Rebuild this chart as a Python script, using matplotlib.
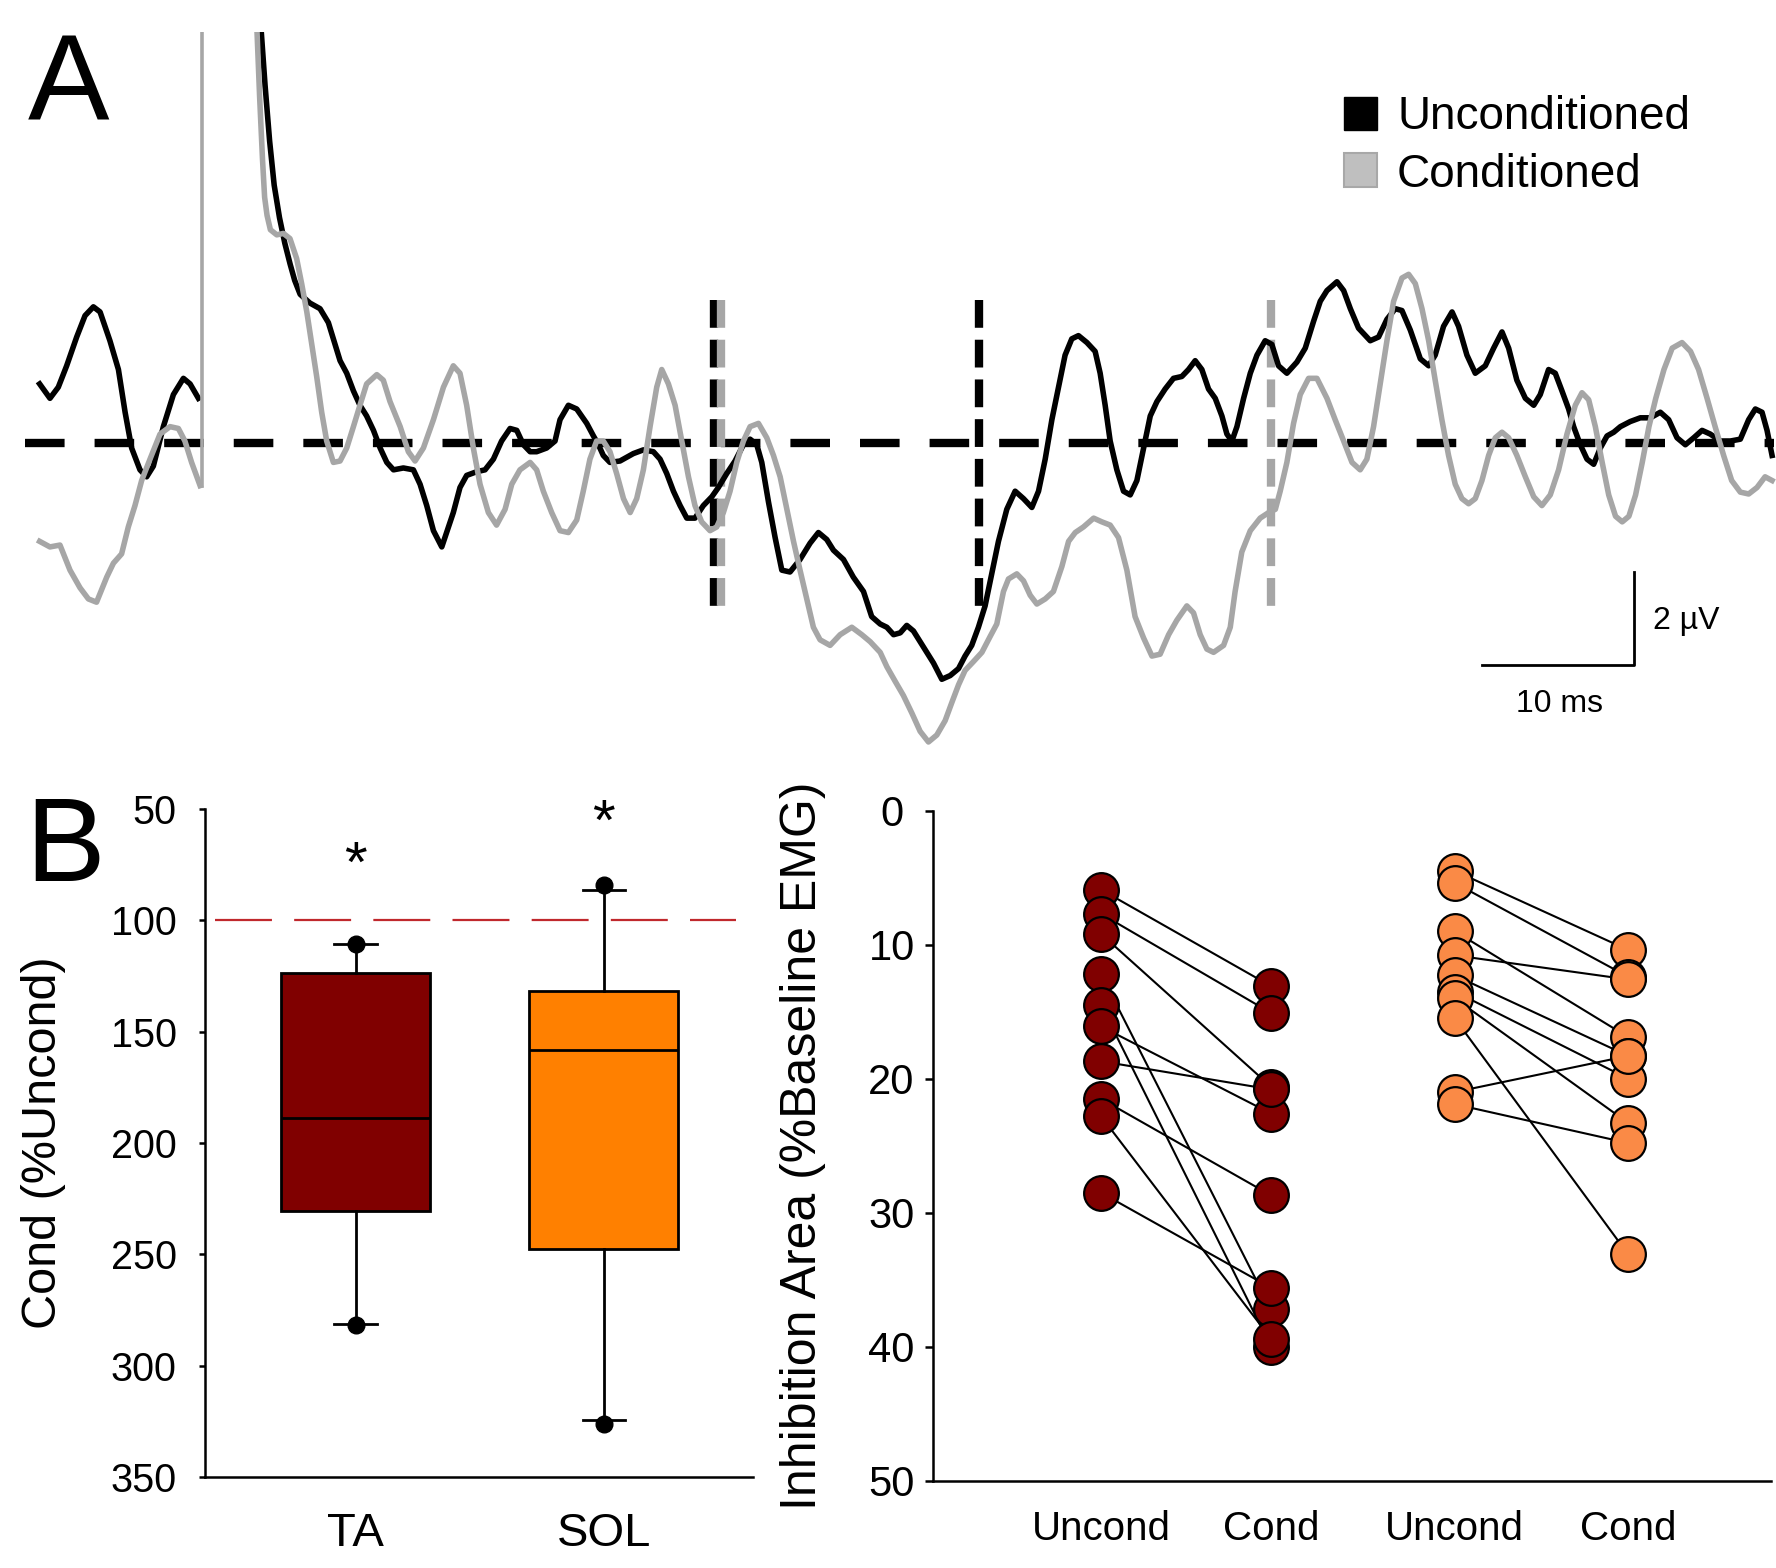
import numpy as np
import matplotlib
matplotlib.use("Agg")
import matplotlib.pyplot as plt
from matplotlib.patches import Rectangle

plt.rcParams['font.family'] = ['Liberation Sans', 'DejaVu Sans']
plt.rcParams['lines.scale_dashes'] = False

# ---------------- Panel A: averaged EMG traces (time ms, amplitude uV) ----------------
unc_pre = np.array([
    (0.0, 1.27), (0.68, 0.96), (1.23, 1.20), (1.78, 1.66), (2.44, 2.28), (2.99, 2.74),
    (3.54, 2.93), (3.98, 2.82), (4.63, 2.20), (5.19, 1.58), (5.63, 0.66), (6.06, -0.11),
    (6.61, -0.58), (7.05, -0.73), (7.49, -0.50), (8.15, 0.35), (8.81, 1.04), (9.47, 1.39),
    (9.91, 1.27), (10.46, 0.96)])

unc_post = np.array([
    (14.45, 9.54), (14.60, 8.85), (14.85, 7.70), (15.15, 6.50), (15.45, 5.55), (15.80, 4.85),
    (16.15, 4.30), (16.50, 3.85), (16.80, 3.50),
    (17.16, 3.20), (17.81, 3.01), (18.47, 2.89), (19.02, 2.59), (19.46, 2.12), (19.79, 1.77),
    (20.23, 1.50), (20.67, 1.12), (21.10, 0.81), (21.54, 0.58), (21.99, 0.27), (22.43, -0.11),
    (22.87, -0.42), (23.31, -0.58), (23.96, -0.54), (24.62, -0.58), (25.06, -0.89), (25.50, -1.35),
    (25.94, -1.89), (26.49, -2.24),
    (27.25, -1.50), (27.69, -0.96), (28.13, -0.70), (28.79, -0.62), (29.34, -0.58), (29.89, -0.35),
    (30.43, 0.04), (30.99, 0.31), (31.43, 0.27), (31.87, -0.04), (32.31, -0.19), (32.74, -0.19),
    (33.40, -0.11), (33.95, 0.04), (34.28, 0.50), (34.83, 0.81), (35.38, 0.73), (36.04, 0.42),
    (36.48, 0.15), (36.81, -0.04), (37.13, -0.27), (37.57, -0.42), (38.23, -0.39), (39.11, -0.23),
    (39.77, -0.15), (40.43, -0.19), (40.87, -0.35), (41.31, -0.66), (41.75, -1.04), (42.19, -1.35),
    (42.63, -1.62), (43.17, -1.62), (43.72, -1.35), (44.28, -1.16), (44.71, -0.96), (45.26, -0.66),
    (45.81, -0.39), (46.36, -0.04), (46.80, 0.08), (47.24, -0.04), (47.57, -0.42), (48.01, -1.27),
    (48.45, -2.04), (48.89, -2.74), (49.43, -2.78), (50.09, -2.51), (50.75, -2.16), (51.30, -1.93),
    (51.85, -2.08), (52.29, -2.31), (52.95, -2.51), (53.60, -2.89), (54.27, -3.20), (54.81, -3.74),
    (55.37, -3.90), (55.81, -3.97), (56.25, -4.13), (56.69, -4.09), (57.12, -3.93), (57.56, -4.05),
    (58.00, -4.28), (58.44, -4.51), (58.88, -4.74), (59.43, -5.09), (59.98, -5.01), (60.53, -4.86),
    (60.96, -4.59), (61.40, -4.36), (61.84, -3.97), (62.28, -3.51), (62.72, -2.82), (63.16, -2.12),
    (63.71, -1.43), (64.26, -1.04), (64.81, -1.20), (65.36, -1.39), (65.80, -1.04), (66.24, -0.35),
    (66.68, 0.50), (67.12, 1.20), (67.55, 1.89), (67.99, 2.24), (68.43, 2.31), (68.99, 2.16),
    (69.53, 1.97), (69.86, 1.50), (70.19, 0.81), (70.52, 0.04), (70.96, -0.58), (71.40, -1.04),
    (71.84, -1.12), (72.28, -0.81), (72.72, -0.11), (73.16, 0.58), (73.60, 0.89), (74.14, 1.16),
    (74.69, 1.39), (75.24, 1.43), (75.68, 1.58), (76.12, 1.77), (76.56, 1.58), (77.00, 1.16),
    (77.44, 0.96), (77.88, 0.58), (78.21, 0.19), (78.54, 0.04), (78.87, 0.35), (79.31, 0.96),
    (79.75, 1.50), (80.19, 1.89), (80.73, 2.20), (81.17, 2.12), (81.61, 1.66), (82.16, 1.50),
    (82.82, 1.74), (83.37, 2.04), (83.92, 2.62),
    (84.36, 3.05), (84.80, 3.28), (85.46, 3.47), (85.90, 3.28), (86.34, 2.89), (86.88, 2.47),
    (87.65, 2.20), (88.20, 2.28), (88.75, 2.66), (89.30, 2.89), (89.74, 2.85), (90.29, 2.43),
    (90.95, 1.81), (91.50, 1.66), (91.93, 1.89), (92.48, 2.51), (93.04, 2.82), (93.47, 2.51),
    (94.02, 1.89), (94.57, 1.50), (95.23, 1.66), (95.78, 2.04), (96.33, 2.39), (96.77, 2.04),
    (97.31, 1.35), (97.87, 0.96), (98.42, 0.81), (98.85, 1.04), (99.40, 1.58), (99.84, 1.50),
    (100.28, 1.12), (100.72, 0.73), (101.05, 0.35), (101.49, -0.04), (101.93, -0.35), (102.37, -0.46),
    (102.81, -0.11), (103.25, 0.15), (103.69, 0.23), (104.13, 0.35), (104.78, 0.46), (105.44, 0.54),
    (106.10, 0.54), (106.76, 0.66), (107.31, 0.50), (107.86, 0.11), (108.41, -0.04), (108.96, 0.11),
    (109.51, 0.27), (110.05, 0.19), (110.72, 0.04), (111.37, 0.04), (112.03, 0.08), (112.58, 0.50),
    (113.02, 0.73), (113.46, 0.66), (113.79, 0.27), (114.12, -0.27)])

cond_pre = np.array([
    (0.0, -2.12), (0.68, -2.24), (1.34, -2.20), (2.00, -2.74), (2.66, -3.12), (3.21, -3.36),
    (3.75, -3.43), (4.42, -2.89), (4.86, -2.59), (5.40, -2.39), (5.84, -1.81), (6.28, -1.35),
    (6.72, -0.81), (7.27, -0.35), (7.93, 0.19), (8.59, 0.35), (9.14, 0.31), (9.57, 0.04),
    (10.01, -0.42), (10.57, -0.92)])

cond_post = np.array([
    (14.25, 9.54), (14.32, 8.85), (14.49, 7.46), (14.68, 6.11), (14.82, 5.29), (14.98, 4.90),
    (15.20, 4.59), (15.62, 4.48), (16.06, 4.51), (16.49, 4.40), (16.93, 3.97), (17.26, 3.43),
    (17.60, 2.82), (17.93, 2.12), (18.25, 1.43), (18.58, 0.66), (18.91, 0.04), (19.35, -0.42),
    (19.79, -0.39), (20.23, -0.11), (20.67, 0.35), (21.10, 0.81), (21.54, 1.27), (22.21, 1.47),
    (22.64, 1.35), (23.08, 0.89), (23.75, 0.35), (24.29, -0.19), (24.73, -0.39), (25.28, -0.11),
    (25.94, 0.50), (26.60, 1.20),
    (27.25, 1.66), (27.69, 1.50), (28.13, 0.81), (28.57, -0.11), (29.01, -0.89), (29.56, -1.50),
    (30.10, -1.77), (30.66, -1.43), (31.10, -0.89), (31.64, -0.58), (32.31, -0.42), (32.74, -0.58),
    (33.18, -1.04), (33.73, -1.50), (34.28, -1.89), (34.83, -1.93), (35.38, -1.66), (35.81, -1.04),
    (36.25, -0.35), (36.69, 0.04), (37.13, 0.04), (37.57, -0.19), (38.01, -0.66), (38.46, -1.20),
    (38.90, -1.50), (39.33, -1.20), (39.77, -0.58), (40.21, 0.35), (40.65, 1.20), (40.98, 1.58),
    (41.42, 1.27), (41.86, 0.81), (42.30, 0.04), (42.74, -0.73), (43.17, -1.35), (43.61, -1.70),
    (44.16, -1.89), (44.60, -1.81), (45.04, -1.50), (45.48, -1.04), (45.92, -0.42), (46.36, 0.04),
    (46.80, 0.35), (47.35, 0.42), (47.90, 0.11), (48.34, -0.27), (48.78, -0.73), (49.22, -1.43),
    (49.66, -2.12), (50.09, -2.74), (50.53, -3.36), (50.97, -3.97), (51.41, -4.24), (52.07, -4.36),
    (52.73, -4.13), (53.50, -3.97), (54.16, -4.13), (54.71, -4.28),
    (55.37, -4.51), (55.81, -4.82), (56.35, -5.13), (56.90, -5.44), (57.46, -5.82), (58.00, -6.21),
    (58.55, -6.44), (59.10, -6.29), (59.65, -5.98), (60.09, -5.59), (60.53, -5.21), (60.96, -4.90),
    (61.51, -4.71), (62.07, -4.51), (62.61, -4.17), (63.05, -3.90), (63.49, -3.20), (63.82, -2.93),
    (64.37, -2.82), (64.81, -2.97), (65.25, -3.28), (65.69, -3.47), (66.24, -3.36), (66.78, -3.20),
    (67.34, -2.66), (67.78, -2.12), (68.22, -1.93), (68.76, -1.81), (69.43, -1.62), (69.97, -1.70),
    (70.52, -1.77), (71.07, -2.04), (71.62, -2.74), (72.16, -3.74), (72.72, -4.20), (73.27, -4.59),
    (73.81, -4.55), (74.37, -4.13), (74.91, -3.82), (75.57, -3.51), (76.01, -3.66), (76.45, -4.13),
    (76.89, -4.44), (77.33, -4.51), (77.99, -4.36), (78.43, -3.97), (78.75, -3.20), (79.19, -2.35),
    (79.75, -1.89), (80.40, -1.62), (80.96, -1.50), (81.40, -1.43), (81.72, -1.04), (82.16, -0.42),
    (82.60, 0.42), (83.04, 1.04), (83.59, 1.39), (84.14, 1.39),
    (84.80, 0.96), (85.34, 0.50), (85.90, 0.04), (86.45, -0.42), (86.99, -0.58), (87.43, -0.35),
    (87.87, 0.35), (88.31, 1.27), (88.75, 2.20), (89.19, 3.05), (89.74, 3.55), (90.18, 3.63),
    (90.62, 3.43), (91.06, 2.89), (91.50, 2.20), (91.93, 1.35), (92.37, 0.50), (92.81, -0.27),
    (93.25, -0.89), (93.69, -1.20), (94.13, -1.31), (94.57, -1.20), (95.01, -0.81), (95.45, -0.27),
    (95.89, 0.11), (96.33, 0.23), (96.77, 0.11), (97.31, -0.27), (97.87, -0.73), (98.42, -1.16),
    (98.96, -1.35), (99.51, -1.12), (100.06, -0.58), (100.61, 0.19), (101.16, 0.81), (101.60, 1.08),
    (102.04, 0.93), (102.48, 0.35), (102.93, -0.42), (103.36, -1.12), (103.81, -1.58), (104.25, -1.70),
    (104.69, -1.58), (105.13, -1.12), (105.57, -0.42), (106.01, 0.35), (106.46, 0.96), (107.00, 1.58),
    (107.54, 2.04), (108.19, 2.16), (108.75, 1.97), (109.28, 1.58), (109.84, 0.96), (110.37, 0.35),
    (110.93, -0.27), (111.46, -0.81), (112.03, -1.06), (112.58, -1.10), (113.13, -0.96), (113.66, -0.73),
    (114.12, -0.81)])

stim_t = 10.67                     # stimulus artifact
baseline_span = [-0.97, 114.25]    # dashed zero line
unc_marks = [44.45, 61.9]          # window of inhibition, unconditioned
cond_marks = [44.9, 81.1]          # window of inhibition, conditioned
mark_span = [3.07, -3.56]

# ---------------- Panel B data ----------------
muscles = ['TA', 'SOL']
box_colors = ['#800000', '#ff8000']
q1 = [123.8, 131.9]
med = [188.8, 158.5]
q3 = [230.4, 247.8]
whis_lo = [110.6, 86.3]
whis_hi = [281.3, 324.6]
fliers = [[110.6, 281.8], [84.0, 326.2]]
star_y = [76.0, 57.0]

ta_uncond = [5.9, 7.7, 9.2, 12.2, 14.5, 16.1, 18.7, 21.5, 22.8, 28.5]
ta_cond = [13.1, 15.1, 20.6, 37.2, 40.0, 22.6, 20.8, 28.7, 39.4, 35.6]
sol_uncond = [4.5, 5.4, 9.0, 10.8, 12.3, 13.5, 14.0, 15.5, 21.0, 21.9]
sol_cond = [10.4, 12.4, 16.9, 12.6, 18.3, 20.0, 23.3, 33.1, 18.3, 24.8]
cond_labels = ['Uncond', 'Cond', 'Uncond', 'Cond']
cond_pos = [1.0, 2.0, 3.08, 4.1]

W, H = 1776, 1568
fig = plt.figure(figsize=(W / 100, H / 100), dpi=100)


def px_box(x0, y0, x1, y1):
    # pixel rectangle (origin top-left) -> figure fraction
    return [x0 / W, 1 - y1 / H, (x1 - x0) / W, (y1 - y0) / H]


# ---------------- Panel A ----------------
axA = fig.add_axes(px_box(0, 31.7, W, 760))
axA.set_xlim(-2.611, 114.38)
axA.set_ylim(-6.828, 8.854)
axA.axis('off')

axA.plot(baseline_span, [0, 0], color='black', lw=6, ls=(0, (28.5, 21.6)),
         dash_capstyle='butt', zorder=1)
for t in unc_marks:
    axA.plot([t, t], mark_span, color='black', lw=6, ls=(0, (20, 8.6)),
             dash_capstyle='butt', zorder=1.5)
for t in cond_marks:
    axA.plot([t, t], mark_span, color='#a6a6a6', lw=6, ls=(0, (20, 8.6)),
             dash_capstyle='butt', zorder=1.6)

axA.plot(unc_pre[:, 0], unc_pre[:, 1], color='black', lw=4, zorder=2)
axA.plot(unc_post[:, 0], unc_post[:, 1], color='black', lw=4, zorder=2)
axA.plot(cond_pre[:, 0], cond_pre[:, 1], color='#a6a6a6', lw=4, zorder=3)
axA.plot(cond_post[:, 0], cond_post[:, 1], color='#a6a6a6', lw=4, zorder=3)
axA.plot([stim_t, stim_t], [cond_pre[-1, 1], 8.854], color='#a6a6a6', lw=2.6, zorder=3)

# scale bar
axA.plot([95, 105, 105], [-4.78, -4.78, -2.78], color='black', lw=2)
axA.text(106.3, -3.83, '2 µV', fontsize=23, ha='left', va='center')
axA.text(100.1, -5.63, '10 ms', fontsize=23, ha='center', va='center')

# legend
fig.add_artist(Rectangle((1344 / W, 1 - 130 / H), 33 / W, 33 / H, transform=fig.transFigure,
                         facecolor='black', edgecolor='black', lw=1))
fig.add_artist(Rectangle((1344 / W, 1 - 187 / H), 33 / W, 34 / H, transform=fig.transFigure,
                         facecolor='#bfbfbf', edgecolor='#a8a8a8', lw=1.5))
fig.text(1397 / W, 1 - 129 / H, 'Unconditioned', fontsize=33, ha='left', va='baseline')
fig.text(1397 / W, 1 - 187 / H, 'Conditioned', fontsize=33, ha='left', va='baseline')

fig.text(28 / W, 1 - 121 / H, 'A', fontsize=88, ha='left', va='baseline')
fig.text(25 / W, 1 - 881 / H, 'B', fontsize=86, ha='left', va='baseline')

# ---------------- Panel B left: box plots ----------------
axL = fig.add_axes(px_box(205, 808.8, 753, 1477))
stats = []
for i in range(2):
    stats.append(dict(label=muscles[i], q1=q1[i], med=med[i], q3=q3[i],
                      whislo=whis_lo[i], whishi=whis_hi[i], fliers=fliers[i]))
bp = axL.bxp(stats, positions=[1, 2], widths=0.6, patch_artist=True, capwidths=0.17,
             boxprops=dict(edgecolor='black', linewidth=2),
             medianprops=dict(color='black', linewidth=2),
             whiskerprops=dict(color='black', linewidth=2),
             capprops=dict(color='black', linewidth=2),
             flierprops=dict(marker='o', markerfacecolor='black', markeredgecolor='black',
                             markersize=12))
for patch, c in zip(bp['boxes'], box_colors):
    patch.set_facecolor(c)

axL.plot([0.433, 2.533], [100, 100], color='#c0282d', lw=1.6, ls=(0, (41, 16)), zorder=0.5)
for i in range(2):
    axL.text(i + 1, star_y[i], '*', fontsize=42, ha='center', va='center')

axL.set_xlim(0.393, 2.602)
axL.set_ylim(350, 50)
axL.set_yticks(np.arange(50, 351, 50))
axL.set_xticks([1, 2])
axL.set_xticklabels(muscles)
for s in ['top', 'right']:
    axL.spines[s].set_visible(False)
for s in ['left', 'bottom']:
    axL.spines[s].set_linewidth(1.8)
axL.tick_params(axis='y', direction='out', length=4.3, width=1.8, pad=16, labelsize=28.5)
axL.tick_params(axis='x', length=0, pad=25, labelsize=34)
fig.text(44 / W, 1 - 1143 / H, 'Cond (%Uncond)', fontsize=35, rotation=90,
         ha='center', va='center')

# ---------------- Panel B right: paired inhibition area ----------------
axR = fig.add_axes(px_box(932.5, 810.5, 1771, 1481))
groups = [(cond_pos[0], cond_pos[1], ta_uncond, ta_cond, '#800000'),
          (cond_pos[2], cond_pos[3], sol_uncond, sol_cond, '#fa8a46')]
for xu, xc, un, co, col in groups:
    for u, c in zip(un, co):
        axR.plot([xu, xc], [u, c], color='black', lw=1.5, zorder=2)
    axR.plot(np.full(len(un), xu), un, 'o', ms=25, mfc=col, mec='black', mew=1.6, zorder=3)
    axR.plot(np.full(len(co), xc), co, 'o', ms=25, mfc=col, mec='black', mew=1.6, zorder=3)

axR.set_xlim(0.009, 4.94)
axR.set_ylim(50, 0)
axR.set_yticks(np.arange(0, 51, 10))
axR.set_xticks(cond_pos)
axR.set_xticklabels(cond_labels)
for s in ['top', 'right']:
    axR.spines[s].set_visible(False)
for s in ['left', 'bottom']:
    axR.spines[s].set_linewidth(1.8)
axR.tick_params(axis='y', direction='out', length=5.5, width=1.8, pad=24, labelsize=30)
axR.tick_params(axis='x', length=0, pad=21, labelsize=29)
for lab in axR.get_yticklabels():
    lab.set_horizontalalignment('center')
fig.text(803 / W, 1 - 1146 / H, 'Inhibition Area (%Baseline EMG)', fontsize=36, rotation=90,
         ha='center', va='center')

fig.savefig('out.png', dpi=100)
